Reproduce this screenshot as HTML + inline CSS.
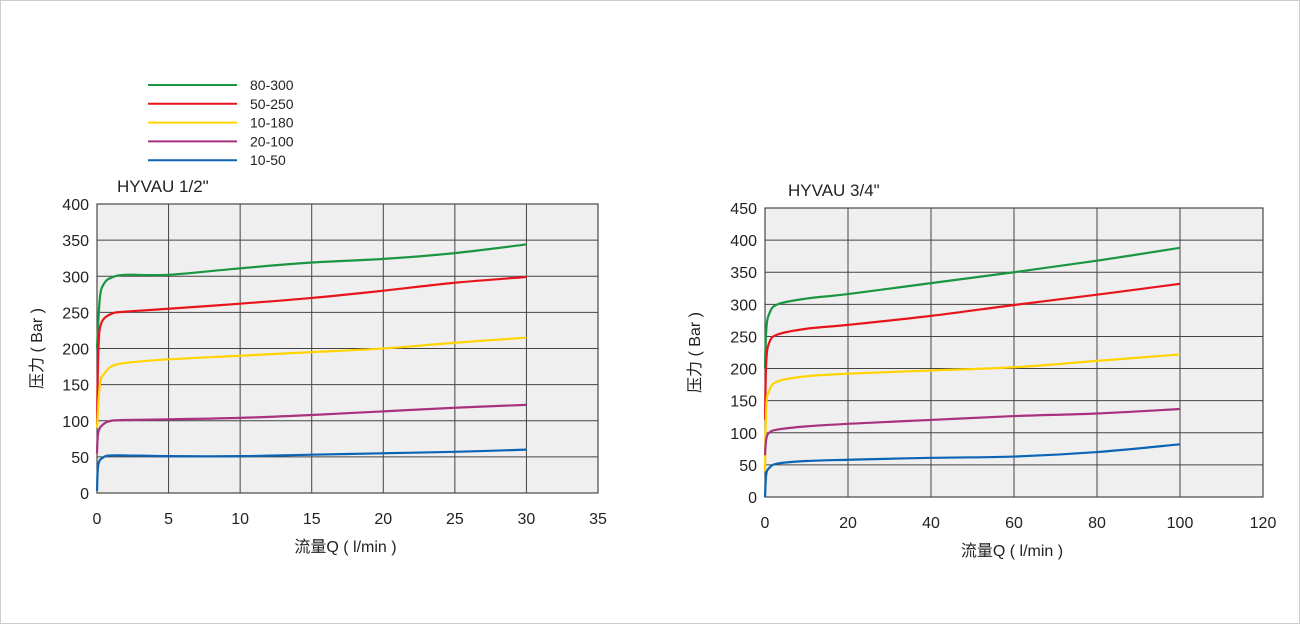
<!DOCTYPE html>
<html><head><meta charset="utf-8"><style>
html,body{margin:0;padding:0;background:#fff;}
svg{display:block;font-family:"Liberation Sans","Noto Sans CJK SC",sans-serif;}
</style></head><body>
<svg id="svg" width="1300" height="624" viewBox="0 0 1300 624">
<rect x="0.5" y="0.5" width="1299" height="623" fill="#fff" stroke="#ccc"/>
<g id="legend"></g>
</svg>
<script>
const seriesNames=["80-300","50-250","10-180","20-100","10-50"];
const seriesColors=["#1a9641","#e8141c","#ffd400","#a8327f","#0b64b4"];
const leftXTicks=[0,5,10,15,20,25,30,35];
const leftYTicks=[0,50,100,150,200,250,300,350,400];
const rightXTicks=[0,20,40,60,80,100,120];
const rightYTicks=[0,50,100,150,200,250,300,350,400,450];
const leftX=[[0,0.2,0.5,1,2,5,10,15,20,25,30],[0,0.1,0.3,1,2,5,10,15,20,25,30],[0,0.2,0.5,1,2,5,10,15,20,25,30],[0,0.1,0.5,1,2,5,10,15,20,25,30],[0,0.1,0.5,1,2,5,10,15,20,25,30]];
const leftGreen=[200,270,290,298,302,302,311,319,324,332,344];
const leftRed=[95,200,235,248,251,255,262,270,280,291,299];
const leftYellow=[90,150,165,175,180,185,190,195,200,208,215];
const leftPurple=[55,85,96,100,101,102,104,108,113,118,122];
const leftBlue=[3,40,50,52,52,51,51,53,55,57,60];
const rightX=[0,0.3,1,3,10,20,40,60,80,100];
const rightGreen=[200,260,285,300,309,316,333,350,368,388];
const rightRed=[120,210,240,253,262,268,282,299,315,332];
const rightYellow=[40,140,165,180,188,192,197,202,212,222];
const rightPurple=[65,90,100,105,110,114,120,126,130,137];
const rightBlue=[0,35,45,52,56,58,61,63,70,82];

const NS="http://www.w3.org/2000/svg";
const svg=document.getElementById('svg');
function mk(tag,attrs,parent){const e=document.createElementNS(NS,tag);for(const k in attrs)e.setAttribute(k,attrs[k]);(parent||svg).appendChild(e);return e;}

// legend
const lg=document.getElementById('legend');
seriesNames.forEach((n,i)=>{
  const y=85+i*18.8;
  const l=mk('line',{x1:148,x2:237,y1:y,y2:y,stroke:seriesColors[i],'stroke-width':2},lg);
  
  
  const t=mk('text',{x:250,y:y+5,'font-size':14,fill:'#222'},lg);
  t.textContent=n;
  
  
});

function chart(opt){
  const g=mk('g',{});
  
  
  const xs=v=>opt.x0+(v-opt.xt[0])/(opt.xt[opt.xt.length-1]-opt.xt[0])*(opt.x1-opt.x0);
  const ys=v=>opt.y0-(v-opt.yt[0])/(opt.yt[opt.yt.length-1]-opt.yt[0])*(opt.y0-opt.y1);
  const bg=mk('rect',{x:opt.x0,y:opt.y1,width:opt.x1-opt.x0,height:opt.y0-opt.y1,fill:'#efefef',stroke:'#555','stroke-width':1.2},g);
  
  
  opt.xt.forEach(v=>{
    const l=mk('line',{x1:xs(v),x2:xs(v),y1:opt.y1,y2:opt.y0,stroke:'#444','stroke-width':1},g);
    
    
    const t=mk('text',{x:xs(v),y:opt.y0+31,'font-size':16,'text-anchor':'middle',fill:'#222'},g);
    t.textContent=v;
    
    
  });
  opt.yt.forEach(v=>{
    const l=mk('line',{x1:opt.x0,x2:opt.x1,y1:ys(v),y2:ys(v),stroke:'#444','stroke-width':1},g);
    
    
    const t=mk('text',{x:opt.x0-8,y:ys(v)+6,'font-size':16,'text-anchor':'end',fill:'#222'},g);
    t.textContent=v;
    
    
  });
  opt.series.forEach((s,i)=>{
    const xv=opt.xv[i];
    const pts=xv.map((x,j)=>[xs(x),ys(s[j])]);
    let d='M'+pts[0][0]+','+pts[0][1];
    for(let j=0;j<pts.length-1;j++){
      const p0=pts[Math.max(0,j-1)],p1=pts[j],p2=pts[j+1],p3=pts[Math.min(pts.length-1,j+2)];
      const c1=[p1[0]+(p2[0]-p0[0])/6,p1[1]+(p2[1]-p0[1])/6];
      const c2=[p2[0]-(p3[0]-p1[0])/6,p2[1]-(p3[1]-p1[1])/6];
      d+=' C'+c1+' '+c2+' '+p2;
    }
    const p=mk('path',{d:d,fill:'none',stroke:seriesColors[i],'stroke-width':2.2},g);
    
    
  });
  const ti=mk('text',{x:opt.tx,y:opt.ty,'font-size':17,fill:'#222'},g);
  ti.textContent=opt.title;
  
  
  const xl=mk('text',{x:(opt.x0+opt.x1)/2-2,y:opt.y0+59,'font-size':16,'text-anchor':'middle',fill:'#222'},g);
  xl.textContent='流量Q ( l/min )';
  
  
  const yc=(opt.y0+opt.y1)/2;
  const yl=mk('text',{x:opt.ylx,y:yc,'font-size':16,'text-anchor':'middle',fill:'#222',transform:'rotate(-90 '+opt.ylx+' '+yc+')'},g);
  yl.textContent='压力 ( Bar )';
  
  
}
chart({name:'chart-hyvau-1-2',x0:97,x1:598,y0:493,y1:204,xt:leftXTicks,yt:leftYTicks,
  xv:leftX,series:[leftGreen,leftRed,leftYellow,leftPurple,leftBlue],title:'HYVAU 1/2"',tx:117,ty:192,ylx:42});
chart({name:'chart-hyvau-3-4',x0:765,x1:1263,y0:497,y1:208,xt:rightXTicks,yt:rightYTicks,
  xv:[rightX,rightX,rightX,rightX,rightX],series:[rightGreen,rightRed,rightYellow,rightPurple,rightBlue],title:'HYVAU 3/4"',tx:788,ty:196,ylx:700});
</script>
</body></html>
